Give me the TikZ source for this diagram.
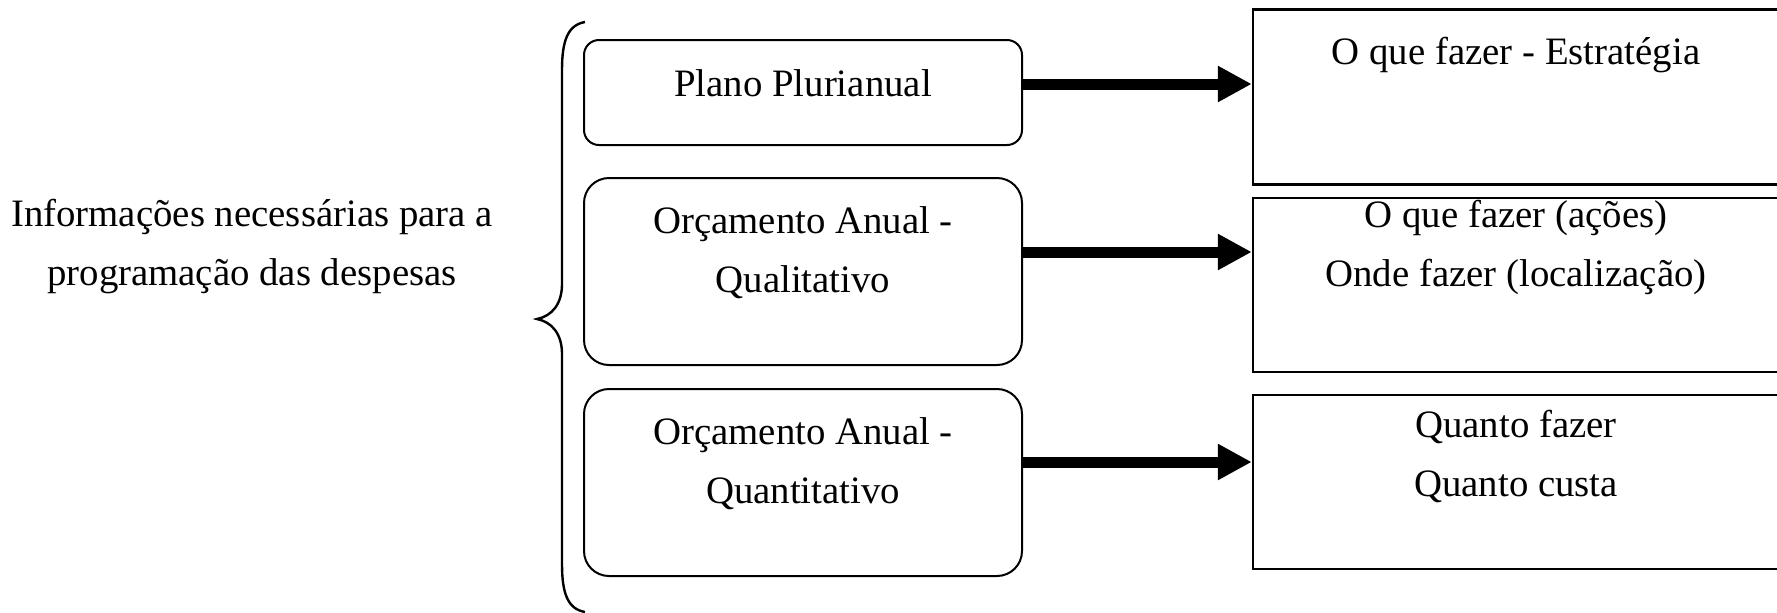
\documentclass[tikz,border=0pt]{standalone}
\usepackage{fontspec}
\setmainfont{Liberation Serif}
\usetikzlibrary{arrows.meta}
\begin{document}
\begin{tikzpicture}[x=0.5pt,y=-0.5pt,
  font=\fontsize{19.4}{29.5}\selectfont,
  caixa/.style={draw,line width=1pt,rounded corners=12.5pt,minimum width=219pt,minimum height=93.5pt},
  quadro/.style={draw,line width=1.2pt,minimum width=263pt,minimum height=87pt},
  texto/.style={align=center,anchor=base,inner sep=0pt},
  seta/.style={line width=5.5pt,-{Triangle[length=17pt,width=17pt]}}]
\useasboundingbox (0,0) rectangle (1777,612);
\clip (0,0) rectangle (1777,612);

% texto da chave (base = ultima linha)
\node[texto] (info) at (252,285) {Informações necessárias para a\\programação das despesas};

\draw[line width=1.2pt] (585,22) .. controls (568,25) and (562,40) .. (562,70) -- (562,284)
  .. controls (562,304) and (552,316) .. (537,319) .. controls (552,322) and (562,334) .. (562,354)
  -- (562,564) .. controls (562,594) and (568,609) .. (585,612);

% caixas da esquerda
\node[caixa,rounded corners=7.5pt,minimum height=52.5pt] (ppa) at (803,92.5) {};
\node[caixa] (quali) at (803,271.5) {};
\node[caixa] (quanti) at (803,482.5) {};

\node[texto] (ppa-txt) at (803,96) {Plano Plurianual};
\node[texto] (quali-txt) at (803,292) {Orçamento Anual -\\Qualitativo};
\node[texto] (quanti-txt) at (803,503) {Orçamento Anual -\\Quantitativo};

% quadros da direita
\node[quadro,minimum height=87.5pt] (estr) at (1516,97) {};
\node[quadro] (acoes) at (1516,285) {};
\node[quadro] (quanto) at (1516,482) {};

\node[texto] (estr-txt) at (1516,64) {O que fazer - Estratégia};
\node[texto] (acoes-txt) at (1516,286) {O que fazer (ações)\\Onde fazer (localização)};
\node[texto] (quanto-txt) at (1516,496) {Quanto fazer\\Quanto custa};

\draw[seta] (ppa.east |- 0,84) -- (estr.west |- 0,84);
\draw[seta] (quali.east |- 0,252) -- (acoes.west |- 0,252);
\draw[seta] (quanti.east |- 0,462) -- (quanto.west |- 0,462);
\end{tikzpicture}
\end{document}
